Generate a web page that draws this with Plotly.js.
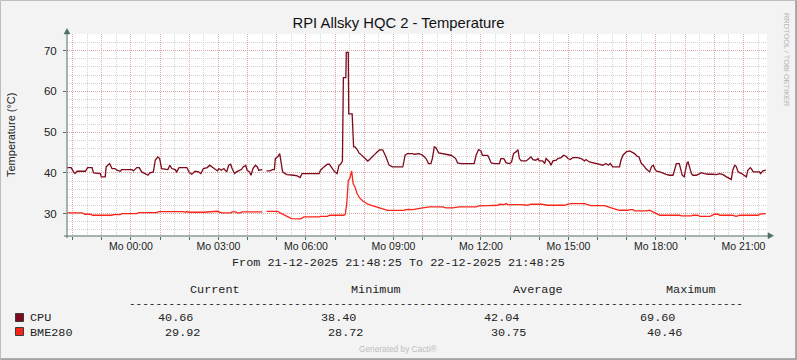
<!DOCTYPE html>
<html><head><meta charset="utf-8">
<script src="https://cdn.plot.ly/plotly-3.0.1.min.js"></script>
<style>html,body{margin:0;padding:0;background:#F3F3F3;}#chart{width:797px;height:360px;}</style>
</head><body><div id="chart"></div>
<script>
// ---- data (times are Dec 2025, "DD HH:MM") ----
const cpuTime = ['21 21:49','21 21:57','21 22:02','21 22:05','21 22:09','21 22:26','21 22:31','21 22:40','21 22:43','21 22:57','21 22:59','21 23:07','21 23:09','21 23:16','21 23:21','21 23:27','21 23:31','21 23:38','21 23:41',
'22 00:02','22 00:05','22 00:12','22 00:17','22 00:22','22 00:29','22 00:35','22 00:39','22 00:46','22 00:50','22 00:55','22 00:59','22 01:03','22 01:16','22 01:20','22 01:24','22 01:31','22 01:34','22 01:39','22 01:55','22 02:00','22 02:05','22 02:12','22 02:19','22 02:24','22 02:29','22 02:37','22 02:42','22 02:47','22 02:54','22 02:58',
'22 03:01','22 03:06','22 03:11','22 03:17','22 03:21','22 03:25','22 03:28','22 03:33','22 03:37','22 03:42','22 03:47','22 03:51','22 03:56','22 03:59','22 04:04','22 04:07','22 04:11','22 04:16','22 04:20','22 04:23','22 04:30','22 04:34','22 04:39','22 04:46','22 04:51','22 04:55','22 04:57',
'22 05:02','22 05:06','22 05:09','22 05:12','22 05:17','22 05:21','22 05:35','22 05:42','22 05:48','22 05:52','22 06:27','22 06:30','22 06:37','22 06:44','22 06:48','22 06:54','22 06:59','22 07:04','22 07:08','22 07:11','22 07:15','22 07:17','22 07:22','22 07:23','22 07:27','22 07:28','22 07:35','22 07:38','22 07:41','22 07:46','22 07:49','22 07:55',
'22 08:02','22 08:07','22 08:11','22 08:17','22 08:22','22 08:27','22 08:32','22 08:38','22 08:41','22 08:44','22 08:51','22 08:58','22 09:19','22 09:20','22 09:24','22 09:29','22 09:39','22 09:43','22 09:53','22 10:00','22 10:07','22 10:12','22 10:17','22 10:20','22 10:24','22 10:27','22 10:33','22 10:41','22 10:51','22 10:58',
'22 11:02','22 11:08','22 11:12','22 11:19','22 11:46','22 11:50','22 11:55','22 12:00','22 12:03','22 12:10','22 12:14','22 12:17','22 12:21','22 12:28','22 12:38','22 12:41','22 12:47','22 12:52','22 12:59','22 13:03','22 13:07','22 13:12','22 13:16','22 13:19','22 13:23','22 13:33','22 13:40','22 13:43','22 13:47','22 13:53','22 13:57',
'22 14:00','22 14:07','22 14:11','22 14:14','22 14:17','22 14:21','22 14:24','22 14:28','22 14:35','22 14:38','22 14:45','22 14:50','22 14:55','22 14:59','22 15:04','22 15:09','22 15:19','22 15:26','22 15:33','22 15:36','22 15:43','22 15:50','22 15:57','22 16:04','22 16:11','22 16:17','22 16:22','22 16:26','22 16:31','22 16:45','22 16:48','22 16:52','22 16:59',
'22 17:06','22 17:13','22 17:16','22 17:21','22 17:25','22 17:30','22 17:34','22 17:39','22 17:44','22 17:47','22 17:51','22 17:55','22 17:57','22 18:01','22 18:08','22 18:15','22 18:21','22 18:28','22 18:35','22 18:39','22 18:42','22 18:48','22 18:50','22 18:54','22 18:58',
'22 19:01','22 19:04','22 19:06','22 19:10','22 19:13','22 19:16','22 19:23','22 19:30','22 19:33','22 19:40','22 19:47','22 19:57','22 20:04','22 20:11','22 20:18','22 20:25','22 20:32','22 20:35','22 20:38','22 20:42','22 20:45','22 20:49','22 20:56','22 21:03','22 21:06','22 21:09','22 21:14','22 21:16','22 21:20','22 21:33','22 21:35','22 21:40','22 21:46'];
const cpuTemp = [41.3,41.3,40.24,39.83,40.4,40.4,41.3,41.3,39.99,39.83,39.01,39.01,41.47,42.29,41.06,41.06,40.65,40.4,40.81,
40.81,40.48,41.3,41.3,40.24,39.83,39.42,39.99,40.24,43.1,43.92,43.51,41.06,40.81,41.88,41.06,40.81,40.24,41.3,41.3,40.1,39.66,40.4,40.24,39.83,41.06,41.3,41.88,41.47,40.81,40.48,
41.06,40.65,41.06,40.24,41.88,42.12,41.06,39.83,40.24,40.48,40.81,41.47,41.88,40.65,40.24,39.42,41.06,41.88,41.47,40.65,40.81,null,40.48,40.48,40.81,40.81,43.51,
43.92,44.74,42.69,40.24,39.83,39.58,39.42,39.25,38.85,39.83,39.83,40.65,41.47,42.12,42.12,41.06,40.24,39.83,41.88,42.12,42.9,63.4,63.4,69.6,69.6,54.5,54.5,46.4,46.4,45.6,44.9,44.3,
43.5,42.9,43.3,43.9,44.6,45.2,45.7,45.6,44.6,44.1,41.9,41.47,41.47,41.88,44.33,44.74,44.74,44.57,44.74,44.33,43.51,42.29,42.29,43.51,46.39,46.23,44.9,44.74,44.57,44.33,
44.09,43.51,42.45,42.29,42.29,44.33,45.72,45.4,44.33,44.33,44.3,43.51,42.45,42.29,42.29,43.51,43.51,42.45,42.29,42.69,44.74,45.15,45.72,43.51,42.94,42.94,43.51,43.92,43.27,43.1,43.51,
42.94,42.94,42.29,43.51,43.1,42.69,41.88,42.94,43.1,43.51,43.76,44.33,44.09,43.51,43.27,43.76,43.76,43.51,42.94,43.27,42.69,42.45,42.29,42.12,41.88,42.29,41.88,42.29,41.47,41.47,43.1,44.33,45.15,
45.4,44.9,44.74,44.09,43.92,42.29,41.88,41.06,40.48,40.24,41.6,41.88,41.06,40.4,40.24,39.83,39.66,39.42,39.42,41.06,42.29,42.29,41.06,39.42,39.01,
41.06,42.45,42.69,41.06,39.83,39.42,39.42,39.83,40.07,39.83,39.66,39.66,39.58,39.83,39.58,39.01,38.6,38.4,40.65,41.88,41.6,40.24,39.83,39.17,39.01,40.65,41.3,41.06,40.24,40.24,39.83,40.48,40.66];

const bmeTime = ['21 21:49','21 22:20','21 22:25','21 22:36','21 22:41','21 22:47','21 22:53','21 23:21','21 23:24','21 23:38','21 23:41','22 00:12','22 00:16','22 00:53','22 00:57','22 01:48','22 01:52','22 01:55','22 01:58','22 02:29','22 02:42','22 02:45','22 02:58',
'22 03:06','22 03:25','22 03:28','22 03:35','22 03:39','22 03:45','22 03:49','22 04:30','22 04:34','22 04:39','22 05:01','22 05:06','22 05:15','22 05:23','22 05:30','22 05:49','22 05:56','22 06:27','22 06:30','22 06:44','22 06:49','22 07:18','22 07:21','22 07:24','22 07:27','22 07:30','22 07:34','22 07:37','22 07:41','22 07:45','22 07:50','22 07:57',
'22 08:07','22 08:18','22 08:28','22 08:38','22 08:48','22 09:22','22 09:25','22 09:32','22 09:39','22 10:00','22 10:14','22 10:41','22 10:48','22 11:02','22 11:15','22 11:50','22 11:56','22 12:14','22 12:35','22 12:38','22 12:41','22 12:45','22 12:48','22 12:52','22 12:55',
'22 13:23','22 13:30','22 13:36','22 13:43','22 13:50','22 13:53','22 14:00','22 14:04','22 14:17','22 14:52','22 14:59','22 15:06','22 15:33','22 15:40','22 15:46','22 16:14','22 16:21','22 16:28','22 16:38','22 16:45','22 17:02','22 17:06','22 17:13','22 17:16','22 17:40','22 17:44','22 17:47','22 17:54',
'22 18:01','22 18:08','22 18:49','22 18:52','22 19:13','22 19:16','22 19:26','22 19:30','22 19:51','22 19:57','22 20:01','22 20:08','22 20:11','22 20:38','22 20:45','22 20:52','22 21:30','22 21:37','22 21:46'];
const bmeTemp = [30.16,30.16,29.84,29.84,29.59,29.67,29.59,29.59,29.75,29.75,30.0,30.0,30.25,30.25,30.49,30.49,30.33,30.57,30.33,30.33,30.41,30.57,30.57,
30.16,30.16,30.41,30.41,30.16,30.16,30.41,30.41,null,30.57,30.57,30.25,29.67,29.1,28.77,28.72,29.18,29.18,29.34,29.34,29.59,29.59,29.84,32.5,38.2,38.6,40.46,37.4,36.5,35.0,33.9,33.1,
32.3,31.9,31.5,31.1,30.8,30.8,30.98,31.06,30.98,31.39,31.64,31.64,31.39,31.39,31.64,31.64,31.89,31.97,32.05,32.3,32.3,32.2,32.2,32.46,32.22,
32.22,32.05,32.05,32.3,32.3,32.46,32.46,32.3,32.05,32.05,32.3,32.46,32.46,32.22,31.97,31.97,31.64,31.39,31.06,30.82,30.82,30.98,30.98,30.66,30.66,30.82,30.82,30.41,
30.0,29.59,29.59,29.43,29.43,29.59,29.59,29.34,29.34,29.59,29.84,29.84,29.59,29.59,29.34,29.59,29.59,30.0,29.92];

const tickTimes = ['21 22:00','21 23:00','22 00:00','22 01:00','22 02:00','22 03:00','22 04:00','22 05:00','22 06:00','22 07:00','22 08:00','22 09:00','22 10:00','22 11:00','22 12:00','22 13:00','22 14:00','22 15:00','22 16:00','22 17:00','22 18:00','22 19:00','22 20:00','22 21:00'];
const tickLabels = ['','','Mo 00:00','','','Mo 03:00','','','Mo 06:00','','','Mo 09:00','','','Mo 12:00','','','Mo 15:00','','','Mo 18:00','','','Mo 21:00'];
const yTicks = [30,40,50,60,70];
const seriesNames = ['CPU','BME280'];
const statHeaders = ['Current','Minimum','Average','Maximum'];
const cpuStats = ['40.66','38.40','42.04','69.60'];
const bmeStats = ['29.92','28.72','30.75','40.46'];
const periodText = 'From 21-12-2025 21:48:25 To 22-12-2025 21:48:25';

// ---- layout helpers ----
const W=797,H=360,L=67,R=30,T=34,B=124;
const pw=W-L-R, ph=H-T-B;
const PX=x=>(x-L)/pw, PY=y=>(H-B-y)/ph;
const full=t=>'2025-12-'+t;
const cpuColor='#7E0A1C', bmeColor='#F8241A', axisColor='#4F6F66';
const mono='Liberation Mono, Courier New, monospace';
const sans='Liberation Sans, Arial, sans-serif';
const majorGrid='rgba(228,125,125,0.5)', minorGrid='#D2D2D2';

const traces=[
 {type:'scatter',mode:'lines',name:seriesNames[0],x:cpuTime.map(full),y:cpuTemp,line:{color:cpuColor,width:1.3},hoverinfo:'skip'},
 {type:'scatter',mode:'lines',name:seriesNames[1],x:bmeTime.map(full),y:bmeTemp,line:{color:bmeColor,width:1.3},hoverinfo:'skip'}
];

const ann=[];
function txt(text,x,y,opt){ann.push(Object.assign({text:text,xref:'paper',yref:'paper',x:PX(x),y:PY(y),showarrow:false,xanchor:'center',yanchor:'middle',borderpad:0,borderwidth:0,font:{family:mono,size:11.8,color:'#222'}},opt||{}));}
txt('Temperature (°C)',11,135,{textangle:-90,font:{family:sans,size:11,color:'#222'}});
txt(periodText,398.3,262.7);
const hx=[215,375.8,537.5,690.8];
statHeaders.forEach((h,i)=>txt(h,hx[i],290.2));
txt('-'.repeat(93),435.5,304,{font:{family:mono,size:11,color:'#222'}});
txt(seriesNames[0],40.3,318.3);
txt(seriesNames[1],50.5,332.7);
const cx=[175.5,338,501.3,657.5], bx=[182.5,345.3,508.7,664.2];
cpuStats.forEach((s,i)=>txt(s,cx[i],318.3));
bmeStats.forEach((s,i)=>txt(s,bx[i],332.7));
txt('Generated by Cacti®',398,349.3,{font:{family:sans,size:8.3,color:'#BDBDBD'}});
txt('RRDTOOL / TOBI OETIKER',787,60,{textangle:90,font:{family:sans,size:7.4,color:'#B4B4B4'}});

const shapes=[
 {type:'rect',xref:'paper',yref:'paper',x0:PX(0.5),x1:PX(796.5),y0:PY(0.5),y1:PY(359.5),line:{color:'#BEBEBE',width:1}},
 {type:'line',xref:'paper',yref:'paper',x0:PX(0.5),x1:PX(796.5),y0:PY(359),y1:PY(359),line:{color:'#9A9A9A',width:1.5}},
 {type:'line',xref:'paper',yref:'paper',x0:PX(796),x1:PX(796),y0:PY(0.5),y1:PY(359.5),line:{color:'#9A9A9A',width:1.5}},
 {type:'line',xref:'paper',yref:'paper',x0:0,x1:0,y0:PY(238),y1:PY(33),line:{color:axisColor,width:1}},
 {type:'line',xref:'paper',yref:'paper',x0:PX(64),x1:PX(769),y0:0,y1:0,line:{color:axisColor,width:1}},
 {type:'path',xref:'paper',yref:'paper',path:`M ${PX(64)} ${PY(34)} L ${PX(70)} ${PY(34)} L ${PX(67)} ${PY(28.5)} Z`,fillcolor:axisColor,line:{color:axisColor,width:0.5}},
 {type:'path',xref:'paper',yref:'paper',path:`M ${PX(768)} ${PY(232.7)} L ${PX(768)} ${PY(238.7)} L ${PX(773.5)} ${PY(235.7)} Z`,fillcolor:axisColor,line:{color:axisColor,width:0.5}},
 {type:'rect',xref:'paper',yref:'paper',x0:PX(15.5),x1:PX(23.5),y0:PY(313.5),y1:PY(321.5),fillcolor:cpuColor,line:{color:'#3A3A3A',width:1}},
 {type:'rect',xref:'paper',yref:'paper',x0:PX(15.5),x1:PX(23.5),y0:PY(327.5),y1:PY(335.5),fillcolor:bmeColor,line:{color:'#3A3A3A',width:1}}
];

const layout={
 width:W,height:H,margin:{l:L,r:R,t:T,b:B,pad:0},
 paper_bgcolor:'#F3F3F3',plot_bgcolor:'#FFFFFF',showlegend:false,
 title:{text:'RPI Allsky HQC 2 - Temperature',x:0.5,xanchor:'center',y:1-22.5/H,yanchor:'middle',font:{family:sans,size:14.8,color:'#111'}},
 xaxis:{type:'date',range:['2025-12-21 21:48:25','2025-12-22 21:48:25'],tickmode:'array',tickvals:tickTimes.map(full),ticktext:tickLabels,
  ticks:'outside',ticklen:3,tickcolor:axisColor,showline:false,zeroline:false,
  showgrid:true,gridcolor:majorGrid,griddash:'1px,1px',gridwidth:1,
  minor:{tickmode:'linear',tick0:'2025-12-21 00:00',dtick:1800000,showgrid:true,gridcolor:minorGrid,griddash:'1px,1px',ticks:''},
  tickfont:{family:sans,size:10.5,color:'#222'},ticklabelstandoff:-3,fixedrange:true},
 yaxis:{range:[24.5,74.1],tickmode:'array',tickvals:yTicks,ticks:'outside',ticklen:3,tickcolor:axisColor,showline:false,zeroline:false,
  showgrid:true,gridcolor:majorGrid,griddash:'1px,1px',gridwidth:1,
  minor:{tickmode:'linear',tick0:0,dtick:2,showgrid:true,gridcolor:minorGrid,griddash:'1px,1px',ticks:''},
  tickfont:{family:sans,size:11.5,color:'#222'},ticklabelstandoff:4,fixedrange:true},
 annotations:ann,shapes:shapes
};
Plotly.newPlot('chart',traces,layout,{staticPlot:true,displayModeBar:false});
</script></body></html>
